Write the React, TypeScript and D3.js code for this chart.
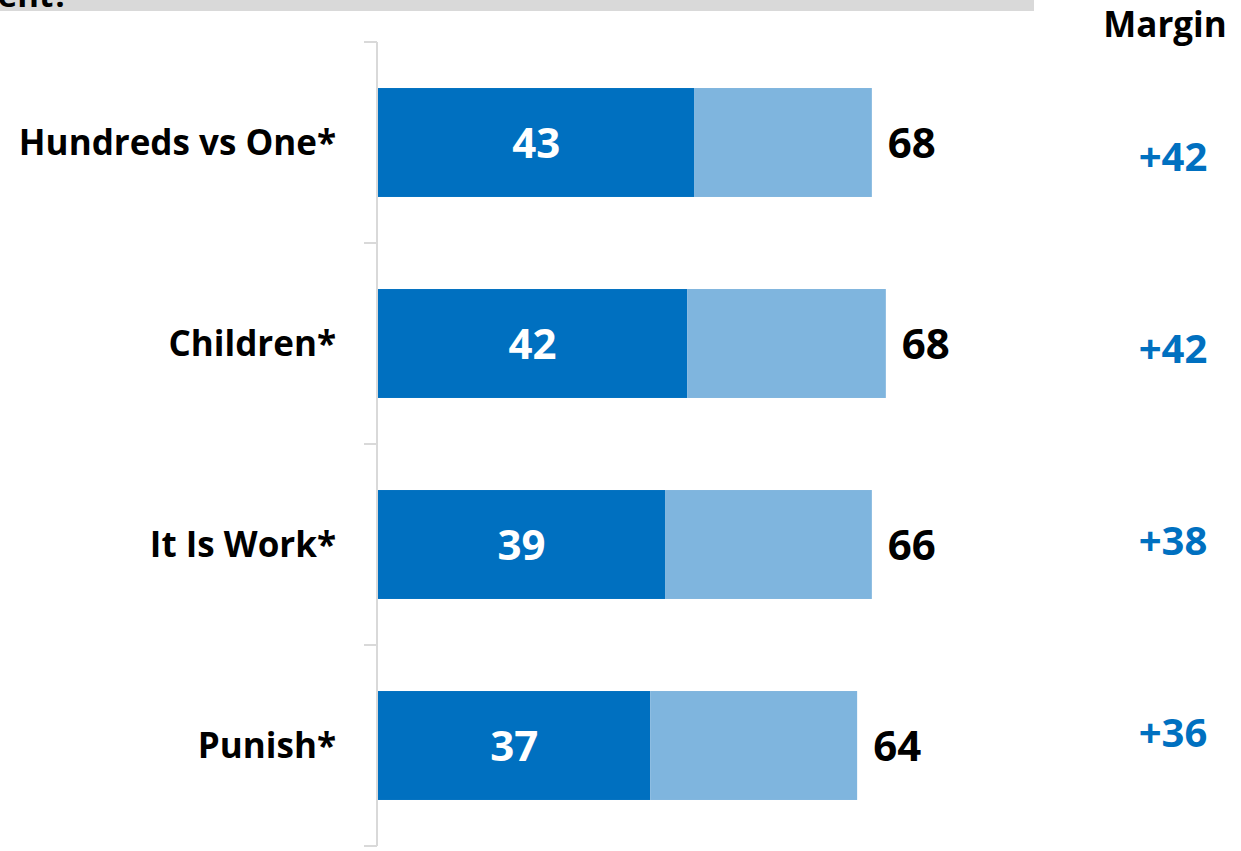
import React from "react";
import * as d3 from "d3";

const categories = ["Hundreds vs One*", "Children*", "It Is Work*", "Punish*"];
const darkValues = [43, 42, 39, 37];
const lightValues = [24.1, 27.0, 28.1, 28.1];
const totalLabels = ["68", "68", "66", "64"];
const marginLabels = ["+42", "+42", "+38", "+36"];

const W = 1241;
const H = 851;
const FONT = "'Open Sans', Lato, sans-serif";
const DARK = "#0070c0";
const LIGHT = "#7fb5de";
const GRID = "#d9d9d9";

export default function App() {
  const y = d3
    .scaleBand<string>()
    .domain(categories)
    .range([42, 846])
    .paddingInner(0.458)
    .paddingOuter(0.229);
  const x = d3.scaleLinear().domain([0, 100]).range([378, 1114]);
  const step = y.step();
  const tickYs = d3.range(categories.length + 1).map((i) => 42 + i * step);
  const marginY = d3
    .scalePoint<string>()
    .domain(categories)
    .range([157, 733]);

  return (
    <svg
      width={W}
      height={H}
      style={{ position: "absolute", left: 0, top: 0, background: "#fff" }}
      fontFamily={FONT}
    >
      <rect x={0} y={0} width={1034} height={11} fill={GRID} />
      <text x={69} y={7} textAnchor="end" fontSize={33} fontWeight={700} fill="#000">
        ent?
      </text>
      <text x={1165} y={37} textAnchor="middle" fontSize={35} fontWeight={700} fill="#000">
        Margin
      </text>

      <line x1={377} x2={377} y1={42} y2={846} stroke={GRID} strokeWidth={2} />
      {tickYs.map((ty, i) => (
        <line key={i} x1={364} x2={377} y1={ty} y2={ty} stroke={GRID} strokeWidth={2} />
      ))}

      {categories.map((c, i) => {
        const by = y(c)!;
        const bh = y.bandwidth();
        const cy = by + bh / 2;
        const x0 = x(0);
        const x1 = x(darkValues[i]);
        const x2 = x(darkValues[i] + lightValues[i]);
        return (
          <g key={c}>
            <rect x={x0} y={by} width={x1 - x0} height={bh} fill={DARK} />
            <rect x={x1} y={by} width={x2 - x1} height={bh} fill={LIGHT} />
            <text
              x={336}
              y={cy}
              dy="0.36em"
              textAnchor="end"
              fontSize={35}
              fontWeight={700}
              fill="#000"
            >
              {c}
            </text>
            <text
              x={(x0 + x1) / 2}
              y={cy}
              dy="0.36em"
              textAnchor="middle"
              fontSize={42}
              fontWeight={700}
              fill="#fff"
            >
              {darkValues[i]}
            </text>
            <text
              x={x2 + 16}
              y={cy}
              dy="0.36em"
              textAnchor="start"
              fontSize={42}
              fontWeight={700}
              fill="#000"
            >
              {totalLabels[i]}
            </text>
            <text
              x={1173}
              y={marginY(c)!}
              dy="0.36em"
              textAnchor="middle"
              fontSize={40}
              fontWeight={700}
              fill={DARK}
            >
              {marginLabels[i]}
            </text>
          </g>
        );
      })}
    </svg>
  );
}
